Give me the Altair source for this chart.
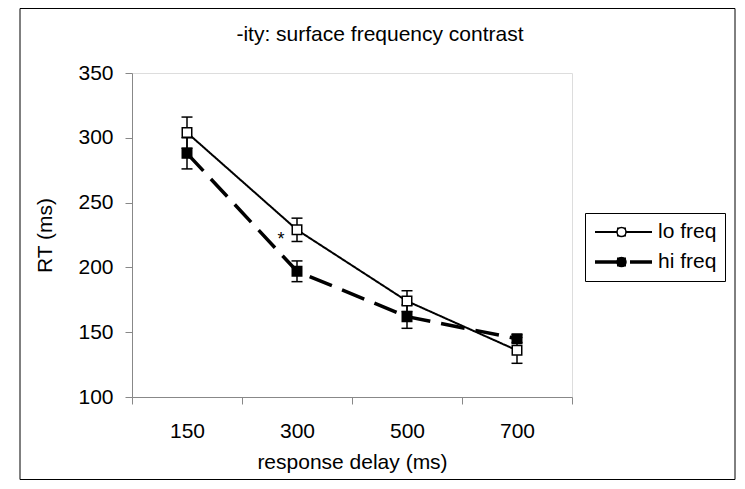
import altair as alt
import pandas as pd

# ---- data ----
delays = ["150", "300", "500", "700"]
series = ["lo freq", "hi freq"]
lo_rt = [304, 229, 174, 136]
lo_err = [12, 9, 8, 10]
hi_rt = [288, 197, 162, 145]
hi_err = [12, 8, 9, 3]
star_delay = ["300"]
star_rt = [224]
y_ticks = [100, 150, 200, 250, 300, 350]

rows = []
for name, means, errs in (("lo freq", lo_rt, lo_err), ("hi freq", hi_rt, hi_err)):
    for d, m, e in zip(delays, means, errs):
        rows.append({"delay": d, "series": name, "marker": name,
                     "rt": m, "lo": m - e, "hi": m + e})
df = pd.DataFrame(rows)
star_df = pd.DataFrame({"delay": star_delay, "rt": star_rt, "txt": ["*"]})

FONT = "Liberation Sans"
W, H = 440, 324

x = alt.X(
    "delay:N", sort=delays, bandPosition=0.5,
    scale=alt.Scale(type="band", paddingInner=0, paddingOuter=0),
    axis=alt.Axis(title="response delay (ms)", labelAngle=0, tickBand="extent",
                  tickSize=7, labelPadding=16, titlePadding=10,
                  labelFontSize=21, titleFontSize=21, titleFontWeight="normal",
                  titleColor="black", labelColor="black"),
)
yscale = alt.Scale(domain=[100, 350], nice=False, zero=False)
y = alt.Y("rt:Q", scale=yscale,
          axis=alt.Axis(title="RT (ms)", values=y_ticks, grid=False, tickSize=7,
                        labelPadding=12, titlePadding=22,
                        labelFontSize=21, titleFontSize=21, titleFontWeight="normal",
                        titleColor="black", labelColor="black"))

base = alt.Chart(df)

line_legend = alt.Legend(
    title=None, orient="none", legendX=453, legendY=140,
    symbolType="stroke", symbolSize=3249, symbolStrokeColor="black",
    strokeColor="black", padding=8,
    labelFontSize=21, labelFont=FONT, labelColor="black",
    clipHeight=22, rowPadding=8, labelOffset=4,
)
point_legend = alt.Legend(
    title=None, orient="none", legendX=471, legendY=140,
    symbolSize=81, symbolStrokeColor="black", symbolStrokeWidth=1.5,
    padding=8, labelExpr="''", labelFontSize=21, labelFont=FONT,
    clipHeight=22, rowPadding=8, labelOffset=4,
)

lines = base.mark_line(color="black").encode(
    x=x, y=y,
    strokeDash=alt.StrokeDash("series:N", sort=series,
                              scale=alt.Scale(domain=series, range=[[1, 0], [24, 11]]),
                              legend=line_legend),
    strokeWidth=alt.StrokeWidth("series:N", sort=series,
                                scale=alt.Scale(domain=series, range=[2, 3.5]),
                                legend=line_legend),
)

rules = base.mark_rule(color="black", strokeWidth=1.5).encode(
    x=x, y=alt.Y("lo:Q", scale=yscale), y2="hi:Q")
caps_lo = base.mark_tick(color="black", size=11, thickness=1.5, opacity=1).encode(
    x=x, y=alt.Y("lo:Q", scale=yscale))
caps_hi = base.mark_tick(color="black", size=11, thickness=1.5, opacity=1).encode(
    x=x, y=alt.Y("hi:Q", scale=yscale))

points = base.mark_point(filled=True, opacity=1, stroke="black", strokeWidth=1.5).encode(
    x=x, y=y,
    shape=alt.Shape("marker:N", sort=series,
                    scale=alt.Scale(range=["square", "square"]),
                    legend=point_legend),
    fill=alt.Fill("marker:N", sort=series,
                  scale=alt.Scale(range=["white", "black"]),
                  legend=point_legend),
    size=alt.value(90),
)

star = alt.Chart(star_df).mark_text(fontSize=18, font=FONT, color="black", dx=-16, dy=4).encode(
    x=x, y=alt.Y("rt:Q", scale=yscale), text="txt:N")

frame = alt.Chart(pd.DataFrame({"k": [0]})).mark_rect(
    fill=None, stroke="black", strokeWidth=1, clip=False
).encode(x=alt.value(-112), x2=alt.value(603), y=alt.value(-64.5), y2=alt.value(406.5))

chart = alt.layer(frame, lines, rules, caps_lo, caps_hi, points, star).properties(
    width=W, height=H,
    title=alt.Title("-ity: surface frequency contrast", fontSize=21, fontWeight="normal",
                    font=FONT, color="black", anchor="middle", frame="group",
                    dx=28, dy=23, baseline="alphabetic", offset=-31),
    autosize=alt.AutoSizeParams(type="none"),
    padding={"left": 124, "top": 65, "right": 164, "bottom": 84},
).configure_view(
    stroke="black", strokeWidth=1
).configure_axis(
    labelFont=FONT, titleFont=FONT, labelColor="black", titleColor="black",
    domainColor="black", tickColor="black", titleFontWeight="normal",
    domainWidth=1, tickWidth=1,
).configure(background="white")

chart.save("out.html", embed_options={"renderer": "svg", "actions": False})
